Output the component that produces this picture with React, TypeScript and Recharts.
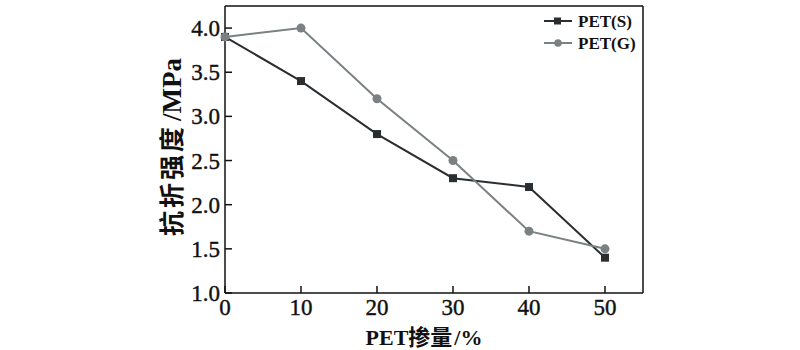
import { LineChart, Line, XAxis, YAxis, ReferenceLine } from "recharts";

// PET dosage (%) vs flexural strength (MPa)
const dosage = [0, 10, 20, 30, 40, 50];
const petS = [3.9, 3.4, 2.8, 2.3, 2.2, 1.4];
const petG = [3.9, 4.0, 3.2, 2.5, 1.7, 1.5];
const xTicks = [0, 10, 20, 30, 40, 50];
const yTicks = [1.0, 1.5, 2.0, 2.5, 3.0, 3.5, 4.0];

const data = dosage.map((d, i) => ({ d, S: petS[i], G: petG[i] }));

const SERIF = "'Liberation Serif', 'DejaVu Serif', serif";
const CJK = "'Noto Sans CJK SC', sans-serif";
const S_COLOR = "#2a2e31";
const G_COLOR = "#7b8083";

const M = { top: 6, right: 157, bottom: 0, left: 0 };
const Y_W = 225;
const X_H = 57;

function YTick(props: any) {
  const { y, payload } = props;
  return (
    <g>
      <line x1={Y_W} x2={Y_W + 7} y1={y} y2={y} stroke="#111" strokeWidth={1.5} />
      <text x={Y_W - 5} y={y + 8} textAnchor="end" fontFamily={SERIF} fontSize={23} fill="#111" stroke="#111" strokeWidth={0.4}>
        {payload.value.toFixed(1)}
      </text>
    </g>
  );
}

function XTick(props: any) {
  const { x, payload } = props;
  const axisY = 350 - X_H;
  return (
    <g>
      <line x1={x} x2={x} y1={axisY} y2={axisY - 7} stroke="#111" strokeWidth={1.5} />
      <text x={x} y={axisY + 22} textAnchor="middle" fontFamily={SERIF} fontSize={23} fill="#111" stroke="#111" strokeWidth={0.4}>
        {payload.value}
      </text>
    </g>
  );
}

function SquareDot(props: any) {
  const { cx, cy } = props;
  if (cx == null || cy == null) return null;
  return <rect x={cx - 4} y={cy - 4} width={8} height={8} fill={S_COLOR} />;
}

function LegendBox() {
  const items = [
    { name: "PET(S)", color: S_COLOR, sq: true },
    { name: "PET(G)", color: G_COLOR, sq: false },
  ];
  return (
    <svg width={110} height={50}>
      {items.map((it, i) => {
        const y = 13 + i * 22;
        return (
          <g key={it.name}>
            <line x1={2} x2={30} y1={y} y2={y} stroke={it.color} strokeWidth={2} />
            {it.sq ? (
              <rect x={12} y={y - 3.5} width={7} height={7} fill={it.color} />
            ) : (
              <circle cx={16} cy={y} r={3.8} fill={it.color} />
            )}
            <text x={36} y={y + 6} fontFamily={SERIF} fontSize={17} fontWeight="bold" fill="#111">
              {it.name}
            </text>
          </g>
        );
      })}
    </svg>
  );
}

export default function App() {
  return (
    <div style={{ width: 800, height: 350, background: "#fff", position: "relative" }}>
      <style>{"body{margin:0}"}</style>
      <LineChart width={800} height={350} data={data} margin={M}>
        <XAxis
          dataKey="d"
          type="number"
          domain={[0, 55]}
          ticks={xTicks}
          height={X_H}
          tickLine={false}
          axisLine={{ stroke: "#111", strokeWidth: 1.5 }}
          tick={<XTick />}
          interval={0}
        />
        <YAxis
          type="number"
          domain={[1, 4.25]}
          ticks={yTicks}
          width={Y_W}
          tickLine={false}
          axisLine={{ stroke: "#111", strokeWidth: 1.5 }}
          tick={<YTick />}
          interval={0}
          allowDataOverflow
        />
        <ReferenceLine y={4.25} stroke="#111" strokeWidth={1.5} />
        <ReferenceLine x={55} stroke="#111" strokeWidth={1.5} />
        <Line
          type="linear"
          dataKey="S"
          stroke={S_COLOR}
          strokeWidth={2}
          dot={<SquareDot />}
          isAnimationActive={false}
        />
        <Line
          type="linear"
          dataKey="G"
          stroke={G_COLOR}
          strokeWidth={2}
          dot={{ r: 4.5, fill: G_COLOR, stroke: G_COLOR, strokeWidth: 0 }}
          isAnimationActive={false}
        />
      </LineChart>
      <div style={{ position: "absolute", left: 542, top: 8 }}>
        <LegendBox />
      </div>
      <div
        style={{
          position: "absolute",
          left: 171,
          top: 147,
          transform: "translate(-50%, -50%) rotate(-90deg)",
          fontFamily: CJK,
          fontWeight: "bold",
          fontSize: 25,
          lineHeight: "28px",
          whiteSpace: "nowrap",
          color: "#111",
        }}
      >
        <span style={{ letterSpacing: 3 }}>抗折强度</span>
        <span style={{ fontFamily: SERIF, fontSize: 27, marginLeft: 3 }}>/MPa</span>
      </div>
      <div
        style={{
          position: "absolute",
          left: 424,
          top: 336,
          transform: "translate(-50%, -50%)",
          fontFamily: CJK,
          fontWeight: "bold",
          fontSize: 22,
          lineHeight: "24px",
          whiteSpace: "nowrap",
          color: "#111",
        }}
      >
        <span style={{ fontFamily: SERIF }}>PET</span>掺量<span style={{ fontFamily: SERIF, marginLeft: 2 }}>/%</span>
      </div>
    </div>
  );
}
